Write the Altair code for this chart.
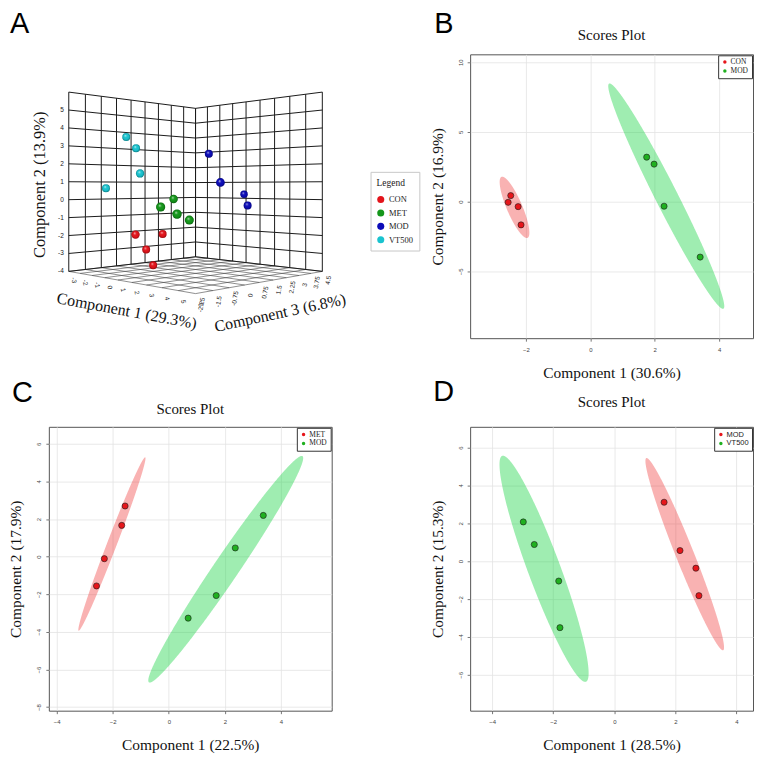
import numpy as np
import pandas as pd
import altair as alt

SERIF = "Liberation Serif"
SANS = "Liberation Sans"

# ---------------- Panel A : 3D scores ----------------
a_group = ["CON", "CON", "CON", "CON", "MET", "MET", "MET", "MET",
           "MOD", "MOD", "MOD", "MOD", "VT500", "VT500", "VT500", "VT500"]
a_comp1 = [0.42, 0.33, -0.25, 0.02, 2.04, 3.29, 4.12, 3.85,
           1.97, 4.21, 1.76, 3.35, -0.96, -0.61, 0.57, -1.68]
a_comp2 = [-1.83, -1.91, -2.78, -3.65, 0.08, -0.26, -0.58, -0.92,
           2.56, 0.94, 0.27, -0.32, 3.50, 2.87, 1.43, 0.64]
a_comp3 = [-1.12, 0.25, -0.19, -0.02, -0.38, -1.83, -1.68, -0.93,
           1.48, 0.30, 3.70, 2.51, -0.72, -0.46, -1.00, -1.26]
a_ticks1 = [-3, -2, -1, 0, 1, 2, 3, 4, 5, 6]
a_ticks2 = [-4, -3, -2, -1, 0, 1, 2, 3, 4, 5, 6]
a_labels2 = [-4, -3, -2, -1, 0, 1, 2, 3, 4, 5]
a_ticks3 = [-2.25, -1.5, -0.75, 0, 0.75, 1.5, 2.25, 3, 3.75, 4.5]
a_groups = ["CON", "MET", "MOD", "VT500"]
a_colors = ["#e3141b", "#14961a", "#0c0cb8", "#19c3cf"]

# ---------------- Panel B ----------------
b_names = ["CON", "MOD"]
b_x1 = [-2.47, -2.55, -2.24, -2.15]
b_y1 = [0.43, -0.05, -0.36, -1.67]
b_x2 = [1.75, 1.98, 2.29, 3.41]
b_y2 = [3.19, 2.69, -0.33, -3.98]
b_xticks = [-2, 0, 2, 4]
b_yticks = [-5, 0, 5, 10]

# ---------------- Panel C ----------------
c_names = ["MET", "MOD"]
c_x1 = [-1.56, -1.68, -2.30, -2.58]
c_y1 = [2.69, 1.66, -0.11, -1.56]
c_x2 = [3.37, 2.37, 1.69, 0.69]
c_y2 = [2.19, 0.46, -2.07, -3.27]
c_xticks = [-4, -2, 0, 2, 4]
c_yticks = [-8, -6, -4, -2, 0, 2, 4, 6]

# ---------------- Panel D ----------------
d_names = ["MOD", "VT500"]
d_x1 = [1.63, 2.15, 2.67, 2.77]
d_y1 = [3.11, 0.56, -0.37, -1.82]
d_x2 = [-2.98, -2.62, -1.82, -1.78]
d_y2 = [2.07, 0.88, -1.05, -3.51]
d_xticks = [-4, -2, 0, 2, 4]
d_yticks = [-6, -4, -2, 0, 2, 4, 6]

# ---------------- 3D projection (two-point perspective) ----------------
CAM_D, CAM_F, CAM_H, CAM_CX, CAM_CY = 6.81, 612.9, -0.054, 193.3, 186.8
R1 = (a_ticks1[0], a_ticks1[-1])
R2 = (a_ticks2[0], a_ticks2[-1])
R3 = (a_ticks3[0], a_ticks3[-1])


def project(c1, c2, c3):
    X = 2 * (np.asarray(c1, float) - R1[0]) / (R1[1] - R1[0]) - 1
    Y = 2 * (np.asarray(c2, float) - R2[0]) / (R2[1] - R2[0]) - 1
    Z = 2 * (np.asarray(c3, float) - R3[0]) / (R3[1] - R3[0]) - 1
    w = (X - Z) / np.sqrt(2)
    v = (X + Z) / np.sqrt(2)
    depth = CAM_D - w
    return CAM_CX + CAM_F * v / depth, CAM_CY - CAM_F * (Y - CAM_H) / depth, depth


def segs(pairs):
    p = np.array([a for a, b in pairs], float)
    q = np.array([b for a, b in pairs], float)
    x1, y1, _ = project(p[:, 0], p[:, 1], p[:, 2])
    x2, y2, _ = project(q[:, 0], q[:, 1], q[:, 2])
    return pd.DataFrame({"x": x1, "y": y1, "x2": x2, "y2": y2})


floor_pairs = [((t, R2[0], R3[0]), (t, R2[0], R3[1])) for t in a_ticks1] + \
              [((R1[0], R2[0], t), (R1[1], R2[0], t)) for t in a_ticks3]
wall_pairs = [((R1[0], R2[0], t), (R1[0], R2[1], t)) for t in a_ticks3] + \
             [((R1[0], t, R3[0]), (R1[0], t, R3[1])) for t in a_ticks2] + \
             [((t, R2[0], R3[1]), (t, R2[1], R3[1])) for t in a_ticks1] + \
             [((R1[0], t, R3[1]), (R1[1], t, R3[1])) for t in a_ticks2]
floor_df = segs(floor_pairs)
wall_df = segs(wall_pairs)

px, py, pdep = project(a_comp1, a_comp2, a_comp3)
diam = CAM_F * 0.1 / pdep
pts_a = pd.DataFrame({"x": px, "y": py, "depth": pdep, "group": a_group,
                      "size": np.pi * (diam / 2) ** 2}).sort_values("depth", ascending=False)

lx, ly, _ = project([R1[0]] * len(a_labels2), a_labels2, [R3[0]] * len(a_labels2))
lab2 = pd.DataFrame({"x": lx - 5, "y": ly, "t": [str(v) for v in a_labels2]})
lx, ly, _ = project(a_ticks1, [R2[0] - 0.5] * len(a_ticks1), [R3[0]] * len(a_ticks1))
lab1 = pd.DataFrame({"x": lx + 5, "y": ly, "t": [f"{v:g}" for v in a_ticks1]})
lx, ly, _ = project([R1[1]] * len(a_ticks3), [R2[0] - 0.5] * len(a_ticks3), a_ticks3)
lab3 = pd.DataFrame({"x": lx + 6, "y": ly, "t": [f"{v:g}" for v in a_ticks3]})

tx, ty, _ = project([(R1[0] + R1[1]) / 2], [R2[0]], [R3[0]])
title1 = pd.DataFrame({"x": tx + 2, "y": ty + 30, "t": ["Component 1 (29.3%)"]})
tx, ty, _ = project([R1[1]], [R2[0]], [(R3[0] + R3[1]) / 2])
title3 = pd.DataFrame({"x": tx + 14, "y": ty + 32, "t": ["Component 3 (6.8%)"]})
tx, ty, _ = project([R1[0]], [1], [R3[0]])
title2 = pd.DataFrame({"x": tx - 29, "y": ty + 3, "t": ["Component 2 (13.9%)"]})

xsA = alt.Scale(domain=[46, 330], nice=False, zero=False)
ysA = alt.Scale(domain=[54, 339], nice=False, zero=False, reverse=True)


def XA():
    return alt.X("x:Q", scale=xsA, axis=None)


def YA():
    return alt.Y("y:Q", scale=ysA, axis=None)


floor = alt.Chart(floor_df).mark_rule(color="#444444", strokeWidth=0.6).encode(
    x=XA(), y=YA(), x2="x2:Q", y2="y2:Q")
walls = alt.Chart(wall_df).mark_rule(color="#1a1a1a", strokeWidth=1).encode(
    x=XA(), y=YA(), x2="x2:Q", y2="y2:Q")

legendA = alt.Legend(title="Legend", orient="none", legendX=323, legendY=118,
                     titleFont=SERIF, titleFontSize=9.5, titleFontWeight="normal",
                     titleColor="#222", labelFont=SERIF, labelFontSize=8.5, labelColor="#222",
                     symbolType="circle", symbolSize=50, symbolStrokeWidth=0,
                     strokeColor="#c8c8c8", fillColor="white", padding=6,
                     rowPadding=4.5, titlePadding=8, labelOffset=4, symbolOpacity=1)
spheres = alt.Chart(pts_a).mark_circle(opacity=1).encode(
    x=XA(), y=YA(),
    color=alt.Color("group:N", scale=alt.Scale(domain=a_groups, range=a_colors), legend=legendA),
    size=alt.Size("size:Q", scale=None, legend=None),
    order=alt.Order("depth:Q", sort="descending"))
shine = {"gradient": "radial", "x1": 0.38, "y1": 0.32, "r1": 0, "x2": 0.5, "y2": 0.5, "r2": 0.5,
         "stops": [{"offset": 0, "color": "rgba(255,255,255,0.75)"},
                   {"offset": 0.35, "color": "rgba(255,255,255,0.05)"},
                   {"offset": 0.7, "color": "rgba(0,0,0,0)"},
                   {"offset": 1, "color": "rgba(0,0,0,0.35)"}]}
spheres_shine = alt.Chart(pts_a).mark_circle(opacity=1, fill=shine).encode(
    x=XA(), y=YA(), size=alt.Size("size:Q", scale=None, legend=None),
    order=alt.Order("depth:Q", sort="descending"))

t_lab2 = alt.Chart(lab2).mark_text(font=SANS, fontSize=6.5, color="#222", align="right",
                                   baseline="middle").encode(x=XA(), y=YA(), text="t:N")
t_lab1 = alt.Chart(lab1).mark_text(font=SANS, fontSize=6.5, color="#222", align="center",
                                   baseline="middle", angle=80).encode(x=XA(), y=YA(), text="t:N")
t_lab3 = alt.Chart(lab3).mark_text(font=SANS, fontSize=6.5, color="#222", align="center",
                                   baseline="middle", angle=280).encode(x=XA(), y=YA(), text="t:N")
t_title1 = alt.Chart(title1).mark_text(font=SERIF, fontSize=16, color="#111", angle=10.5,
                                       baseline="middle").encode(x=XA(), y=YA(), text="t:N")
t_title3 = alt.Chart(title3).mark_text(font=SERIF, fontSize=16, color="#111", angle=348,
                                       baseline="middle").encode(x=XA(), y=YA(), text="t:N")
t_title2 = alt.Chart(title2).mark_text(font=SERIF, fontSize=16.5, color="#111", angle=270,
                                       baseline="middle").encode(x=XA(), y=YA(), text="t:N")
letterA = alt.Chart(pd.DataFrame({"t": ["A"]})).mark_text(
    font=SANS, fontSize=29, align="left", baseline="alphabetic", color="#000").encode(
    x=alt.value(-39), y=alt.value(-21), text="t:N")

panelA = alt.layer(floor, walls, spheres, spheres_shine, t_lab2, t_lab1, t_lab3,
                   t_title1, t_title3, t_title2, letterA).properties(
    width=284, height=285, view=alt.ViewBackground(strokeWidth=0))


# ---------------- 2D score panels ----------------
def ellipse_band(x, y, n=400):
    x = np.asarray(x, float)
    y = np.asarray(y, float)
    mx, my = x.mean(), y.mean()
    S = np.cov(x, y)
    c = 5.991
    half = np.sqrt(c * S[0, 0])
    t = np.linspace(0, np.pi, n)
    xx = mx - half * np.cos(t)
    dx = xx - mx
    cond = S[1, 1] - S[0, 1] ** 2 / S[0, 0]
    spread = np.sqrt(np.clip((c - dx ** 2 / S[0, 0]) * cond, 0, None))
    yc = my + S[0, 1] / S[0, 0] * dx
    return pd.DataFrame({"x": xx, "lo": yc - spread, "hi": yc + spread})


def scores_panel(letter, names, x1, y1, x2, y2, xdom, ydom, xvals, yvals,
                 xtitle, ytitle, title_y, letter_xy, legend_font):
    red, green = "#e6161b", "#20b020"
    xs = alt.Scale(domain=xdom, nice=False, zero=False)
    ys = alt.Scale(domain=ydom, nice=False, zero=False)
    common = dict(grid=True, gridColor="#e3e3e3", gridWidth=0.8, domain=False, ticks=True,
                  tickSize=3, tickColor="#555", tickWidth=0.8, labelFont=SANS, labelFontSize=6,
                  labelColor="#444", titleFont=SERIF, titleFontSize=15.5,
                  titleFontWeight="normal", titleColor="#111")
    xaxis = alt.Axis(values=xvals, title=xtitle, labelPadding=5, titlePadding=13, **common)
    yaxis = alt.Axis(values=yvals, title=ytitle, labelAngle=270, labelPadding=4,
                     titlePadding=12, **common)
    e1 = ellipse_band(x1, y1)
    e2 = ellipse_band(x2, y2)
    ell1 = alt.Chart(e1).mark_area(color="#ee2a2a", opacity=0.36, clip=True).encode(
        x=alt.X("x:Q", scale=xs, axis=xaxis), y=alt.Y("hi:Q", scale=ys, axis=yaxis), y2="lo:Q")
    ell2 = alt.Chart(e2).mark_area(color="#1bd444", opacity=0.42, clip=True).encode(
        x=alt.X("x:Q", scale=xs, axis=xaxis), y=alt.Y("hi:Q", scale=ys, axis=yaxis), y2="lo:Q")
    pts = pd.DataFrame({"x": list(x1) + list(x2), "y": list(y1) + list(y2),
                        "g": [names[0]] * len(x1) + [names[1]] * len(x2)})
    leg = alt.Legend(title=None, orient="top-right", offset=1, strokeColor="#333",
                     fillColor="white", padding=3, labelFont=legend_font, labelFontSize=7.5,
                     labelColor="#222", symbolType="circle", symbolSize=12,
                     symbolStrokeWidth=0, rowPadding=0, labelOffset=2)
    dots = alt.Chart(pts).mark_circle(size=38, opacity=1, stroke="#1a1a1a",
                                      strokeWidth=0.6).encode(
        x=alt.X("x:Q", scale=xs, axis=xaxis), y=alt.Y("y:Q", scale=ys, axis=yaxis),
        color=alt.Color("g:N", scale=alt.Scale(domain=names, range=[red, green]), legend=leg))
    ttl = alt.Chart(pd.DataFrame({"t": ["Scores Plot"]})).mark_text(
        font=SERIF, fontSize=15, color="#111", baseline="middle").encode(
        x=alt.value(142), y=alt.value(title_y), text="t:N")
    let = alt.Chart(pd.DataFrame({"t": [letter]})).mark_text(
        font=SANS, fontSize=29, align="left", baseline="alphabetic", color="#000").encode(
        x=alt.value(letter_xy[0]), y=alt.value(letter_xy[1]), text="t:N")
    return alt.layer(ell1, ell2, dots, ttl, let).properties(width=284, height=285)


panelB = scores_panel("B", b_names, b_x1, b_y1, b_x2, b_y2, [-3.73, 5.05], [-9.8, 10.57],
                      b_xticks, b_yticks, "Component 1 (30.6%)", "Component 2 (16.9%)",
                      -19, (-36, -21), SERIF)
panelC = scores_panel("C", c_names, c_x1, c_y1, c_x2, c_y2, [-4.28, 5.81], [-8.19, 6.9],
                      c_xticks, c_yticks, "Component 1 (22.5%)", "Component 2 (17.9%)",
                      -18, (-37, -25), SERIF)
panelD = scores_panel("D", d_names, d_x1, d_y1, d_x2, d_y2, [-4.72, 4.54], [-7.89, 7.09],
                      d_xticks, d_yticks, "Component 1 (28.5%)", "Component 2 (15.3%)",
                      -25, (-37, -26), SANS)

chart = alt.concat(panelA, panelB, panelC, panelD, columns=2,
                   spacing={"row": 89, "column": 139}, bounds="flush").resolve_scale(
    x="independent", y="independent", color="independent").resolve_legend(
    color="independent").properties(padding=0, background="white").configure_view(
    stroke="#555555", strokeWidth=1)

chart.save("out.html", embed_options={"renderer": "svg", "actions": False})
